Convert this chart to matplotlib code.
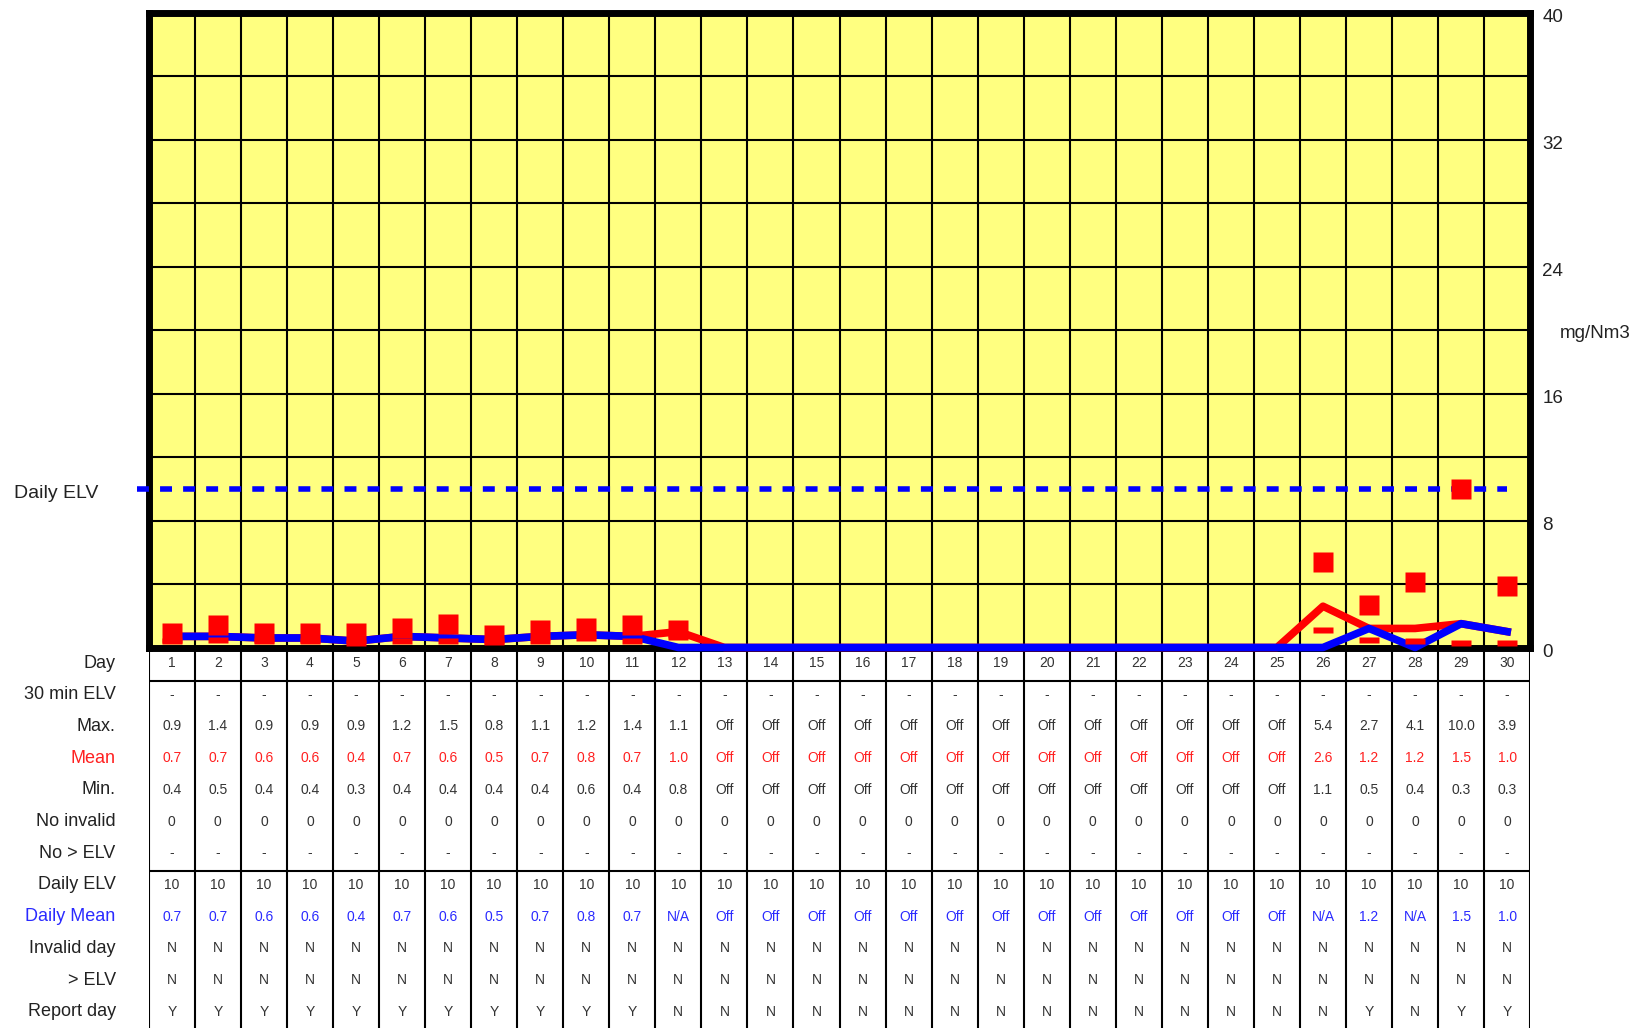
import numpy as np
import matplotlib
matplotlib.use('Agg')
import matplotlib.pyplot as plt
from matplotlib import transforms
from matplotlib.path import Path

plt.rcParams['font.family'] = ['Liberation Sans', 'DejaVu Sans']

# ---------------- data ----------------
days = list(range(1, 31))
elv_30min = ['-'] * 30
max_vals = ['0.9', '1.4', '0.9', '0.9', '0.9', '1.2', '1.5', '0.8', '1.1', '1.2', '1.4', '1.1'] \
    + ['Off'] * 13 + ['5.4', '2.7', '4.1', '10.0', '3.9']
mean_vals = ['0.7', '0.7', '0.6', '0.6', '0.4', '0.7', '0.6', '0.5', '0.7', '0.8', '0.7', '1.0'] \
    + ['Off'] * 13 + ['2.6', '1.2', '1.2', '1.5', '1.0']
min_vals = ['0.4', '0.5', '0.4', '0.4', '0.3', '0.4', '0.4', '0.4', '0.4', '0.6', '0.4', '0.8'] \
    + ['Off'] * 13 + ['1.1', '0.5', '0.4', '0.3', '0.3']
no_invalid = ['0'] * 30
no_gt_elv = ['-'] * 30
daily_elv = ['10'] * 30
daily_mean = ['0.7', '0.7', '0.6', '0.6', '0.4', '0.7', '0.6', '0.5', '0.7', '0.8', '0.7', 'N/A'] \
    + ['Off'] * 13 + ['N/A', '1.2', 'N/A', '1.5', '1.0']
invalid_day = ['N'] * 30
gt_elv = ['N'] * 30
report_day = ['Y'] * 11 + ['N'] * 15 + ['Y', 'N', 'Y', 'Y']
elv_limit = 10
y_tick_vals = [0, 8, 16, 24, 32, 40]
y_grid_step = 4
y_max = 40
unit_label = 'mg/Nm3'


def to_num(vals, fill):
    out = []
    for v in vals:
        try:
            out.append(float(v))
        except ValueError:
            out.append(fill)
    return np.array(out)


max_num = to_num(max_vals, np.nan)
min_num = to_num(min_vals, np.nan)
mean_line = to_num(mean_vals, 0.0)
dmean_line = to_num(daily_mean, 0.0)

# ---------------- layout ----------------
W, H = 1643, 1028
DPI = 100
ax_left, ax_right, ax_top, ax_bot = 148.8, 1530.2, 12.5, 647.5

fig = plt.figure(figsize=(W / DPI, H / DPI), dpi=DPI)
fig.patch.set_facecolor('white')

tax = fig.add_axes([ax_left / W, 0, (ax_right - ax_left) / W, 1 - ax_bot / H])
ax = fig.add_axes([ax_left / W, 1 - ax_bot / H, (ax_right - ax_left) / W, (ax_bot - ax_top) / H])

# ---------------- chart ----------------
ax.set_facecolor('#ffff80')
ax.set_xlim(0, len(days))
ax.set_ylim(0, y_max)
ax.set_xticks(np.arange(len(days) + 1))
ax.set_yticks(np.arange(0, y_max + 1, y_grid_step))
ax.tick_params(length=0, labelbottom=False, labelleft=False)
ax.grid(True, color='black', linewidth=1.5)
for s in ax.spines.values():
    s.set_linewidth(5)
    s.set_color('black')
    s.set_zorder(2.6)

x = np.array(days) - 0.5

ax.plot([x[0] - 0.75, x[-1]], [elv_limit, elv_limit], color='blue', linewidth=4,
        dashes=(2.15, 2.0), zorder=3.5, clip_on=False)
ax.plot(x, mean_line, color='red', linewidth=5.5, zorder=4, clip_on=False)
ax.plot(x, dmean_line, color='blue', linewidth=5.5, zorder=5, clip_on=False)

ax.plot(x, max_num, linestyle='none', marker='s', markersize=13.7,
        markerfacecolor='red', markeredgecolor='none', zorder=6, clip_on=False)
dash = Path([(-1, -0.3), (1, -0.3), (1, 0.3), (-1, 0.3), (-1, -0.3)],
            [Path.MOVETO, Path.LINETO, Path.LINETO, Path.LINETO, Path.CLOSEPOLY])
ax.plot(x, min_num, linestyle='none', marker=dash, markersize=13.7,
        markerfacecolor='red', markeredgecolor='none', zorder=6, clip_on=False)

# right side value labels
blend = transforms.blended_transform_factory(ax.transAxes, ax.transData)
for v in y_tick_vals:
    ax.text(1, v, str(v), transform=blend + transforms.ScaledTranslation(12 / DPI, -5 / DPI, fig.dpi_scale_trans),
            ha='left', va='center', fontsize=13.5, color='#222222')
ax.text(1, 20, unit_label, transform=blend + transforms.ScaledTranslation(30 / DPI, -3 / DPI, fig.dpi_scale_trans),
        ha='left', va='center', fontsize=13.5, color='#222222')

# left "Daily ELV" label
blend_fig = transforms.blended_transform_factory(fig.transFigure, ax.transData)
ax.text(14 / W, elv_limit, 'Daily ELV',
        transform=blend_fig + transforms.ScaledTranslation(0, -5 / DPI, fig.dpi_scale_trans),
        ha='left', va='center', fontsize=14, color='#222222')

# ---------------- table ----------------
tax.set_xlim(0, len(days))
tax.set_ylim(11.51, -0.49)
tax.axis('off')

dark = '#333333'
red_t = '#ff2020'
blue_t = '#2a2aff'
rows = [
    ('Day', [str(d) for d in days], '#222222', dark),
    ('30 min ELV', elv_30min, '#222222', dark),
    ('Max.', max_vals, '#222222', dark),
    ('Mean', mean_vals, red_t, red_t),
    ('Min.', min_vals, '#222222', dark),
    ('No invalid', no_invalid, '#222222', dark),
    ('No > ELV', no_gt_elv, '#222222', dark),
    ('Daily ELV', daily_elv, '#222222', dark),
    ('Daily Mean', daily_mean, blue_t, blue_t),
    ('Invalid day', invalid_day, '#222222', dark),
    ('> ELV', gt_elv, '#222222', dark),
    ('Report day', report_day, '#222222', dark),
]
for k, (label, vals, lc, vc) in enumerate(rows):
    tax.text(-0.72, k, label, ha='right', va='center', fontsize=13, color=lc, clip_on=False)
    for j, v in enumerate(vals):
        tax.text(j + 0.5, k, v, ha='center', va='center', fontsize=10, color=vc)

tax.vlines(np.arange(len(days) + 1), -0.49, 11.51, colors='black', linewidth=1.5)
tax.hlines([0.57, 6.57], 0, len(days), colors='black', linewidth=1.5)

fig.savefig('out.png', dpi=DPI, facecolor='white')
